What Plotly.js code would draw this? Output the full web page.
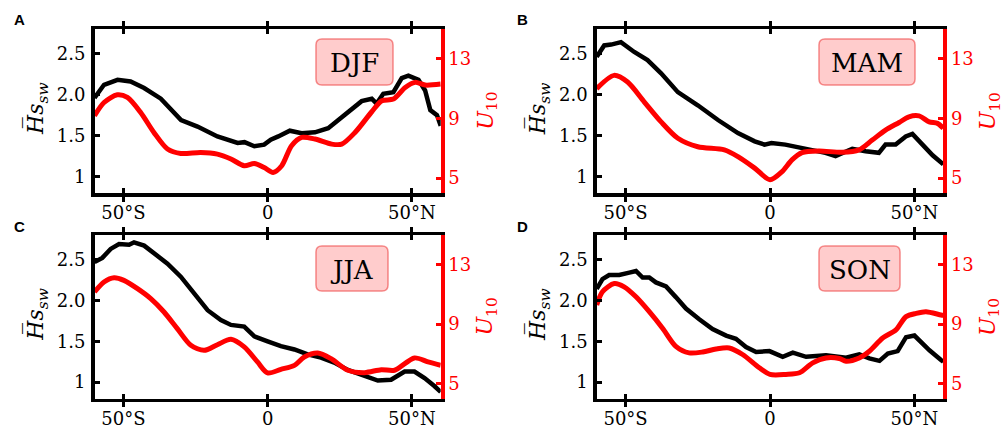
<!DOCTYPE html>
<html>
<head>
<meta charset="utf-8">
<script src="https://cdn.plot.ly/plotly-3.0.1.min.js"></script>
<style>html,body{margin:0;padding:0;background:#fff;} #chart{width:1003px;height:430px;}</style>
</head>
<body>
<div id="chart"></div>
<script>
// ---------- data ----------
const seasons = ['DJF', 'MAM', 'JJA', 'SON'];
const panelLetters = ['A', 'B', 'C', 'D'];
const xTickVals = [-50, 0, 50];
const xTickText = ['50°S', '0', '50°N'];
const hsTickVals = [1, 1.5, 2, 2.5];
const hsTickText = ['1', '1.5', '2.0', '2.5'];
const uTickVals = [5, 9, 13];
const uTickText = ['5', '9', '13'];

// DJF
const latA_hs = [-60,-56.7,-52,-47.5,-42.8,-37,-30,-24.3,-17.4,-10.4,-8,-4.6,-1.2,1.1,3.7,7.7,11.8,16.4,21,24.5,29.2,32.6,36.1,37.8,40.1,43.6,46.5,48.8,52.3,54.6,56.4,58.7,60];
const hsA = [1.96,2.12,2.18,2.16,2.08,1.95,1.69,1.61,1.49,1.41,1.42,1.37,1.39,1.45,1.49,1.56,1.53,1.54,1.59,1.69,1.83,1.92,1.95,1.89,2.01,2.03,2.20,2.23,2.18,2.05,1.81,1.75,1.62];
const latA_u = [-60,-56.7,-52.1,-48.6,-44,-39.4,-34.7,-30.1,-23.2,-17.4,-12.7,-8.1,-4.6,-1.2,1.9,4.9,8.3,11.8,16.4,22.2,25.7,30.3,36.1,39.6,43.6,47.7,51.1,54.6,60];
const uA = [9.18,10.07,10.59,10.41,9.40,8.06,6.95,6.65,6.72,6.61,6.28,5.83,5.98,5.71,5.38,5.83,7.17,7.73,7.62,7.28,7.28,8.06,9.45,10.19,10.30,11.08,11.42,11.24,11.31];

// MAM
const latB_hs = [-60,-57.4,-55,-51.6,-47,-42.4,-37.7,-31.9,-25,-18,-11.1,-5.3,-1.9,0.5,5.3,12.3,19.2,22.7,28.5,33.1,37.7,40,43.5,47,49.3,52.8,56.3,60];
const hsB = [2.46,2.60,2.61,2.64,2.52,2.42,2.26,2.03,1.87,1.69,1.53,1.43,1.39,1.41,1.39,1.34,1.29,1.25,1.34,1.31,1.29,1.39,1.39,1.49,1.52,1.39,1.26,1.15];
const latB_u = [-60,-54,-49.3,-43.5,-37.7,-31.9,-25,-15.8,-11.1,-5.3,0,4.2,7.6,11.1,16.9,25,30.8,35.4,40,44.7,48.1,51.6,55.1,58,60];
const uB = [11.0,11.89,11.44,10.1,8.77,7.67,7.1,6.89,6.44,5.67,4.89,5.44,6.22,6.71,6.82,6.73,6.89,7.55,8.22,8.73,9.11,9.17,8.77,8.67,8.35];

// JJA
const latC_hs = [-60,-57.3,-54.4,-51.5,-48,-46.3,-42.8,-39.4,-34.7,-30.1,-25.5,-20.8,-16.2,-12.7,-8.1,-4.6,0,4.6,9.3,13.9,18.5,23.1,27.8,32.4,38.2,42.8,47.5,50.9,54.4,57.9,60];
const hsC = [2.47,2.52,2.63,2.69,2.68,2.71,2.67,2.58,2.45,2.29,2.09,1.88,1.76,1.70,1.68,1.56,1.50,1.44,1.40,1.34,1.30,1.24,1.15,1.09,1.02,1.03,1.13,1.13,1.05,0.95,0.88];
const latC_u = [-60,-56.7,-53.2,-49.8,-45.1,-40.5,-35.9,-31.3,-26.6,-22,-17.4,-12.7,-8.1,-3.5,0,4.6,9.3,12.7,17.4,22,27.8,33.6,39.4,44,50.9,55.6,60];
const uC = [11.17,11.84,12.13,11.95,11.39,10.72,9.82,8.70,7.58,7.24,7.62,7.98,7.47,6.46,5.72,5.96,6.23,6.79,7.06,6.68,5.90,5.74,5.94,5.90,6.73,6.46,6.23];

// SON
const latD_hs = [-60,-58,-55.7,-52.2,-48.7,-46.4,-44.1,-41.8,-39.5,-36,-32.6,-29.1,-24.5,-19.9,-15.2,-11.8,-8.3,-4.8,-0.2,4.4,7.9,12.5,19.4,26.3,30.9,34.4,37.9,40.8,44.2,47.1,50,52.3,55.2,59.2,60];
const hsD = [2.14,2.26,2.31,2.31,2.34,2.36,2.28,2.28,2.22,2.17,2.04,1.90,1.77,1.65,1.57,1.53,1.43,1.37,1.38,1.31,1.36,1.31,1.33,1.30,1.34,1.29,1.26,1.35,1.38,1.55,1.57,1.49,1.39,1.27,1.25];
const latD_u = [-60,-58,-53.9,-50.5,-46.4,-41.8,-37.2,-32.6,-28,-23.3,-18.7,-14.1,-9.5,-3.7,0,5.5,10.2,14.8,19.4,24,26.3,30.9,34.4,39,43.6,47.1,50.6,54,59.2,60];
const uD = [10.29,11.18,11.73,11.51,10.84,9.84,8.73,7.51,7.07,7.13,7.33,7.40,6.96,6.07,5.62,5.62,5.73,6.40,6.73,6.69,6.51,6.73,7.18,8.07,8.62,9.51,9.73,9.84,9.62,9.60];

const hsLat = [latA_hs, latB_hs, latC_hs, latD_hs];
const hsVals = [hsA, hsB, hsC, hsD];
const uLat = [latA_u, latB_u, latC_u, latD_u];
const uVals = [uA, uB, uC, uD];

// ---------- layout helpers ----------
const W = 1003, H = 430;
const px = v => v / W;
const py = v => 1 - v / H;
const colX = [[94.5, 440.7], [596.7, 943.3]];
const rowY = [[29, 193], [235, 398.5]];
const serif = 'DejaVu Serif';
const sans = 'Liberation Sans';
// season label boxes (pixel rects: x0, x1, y0, y1)
const boxes = [[316, 393, 39, 85], [819, 915, 39, 85], [316, 388, 246, 291], [819, 900, 246, 291]];

function roundRect(b, r) {
  const [x0, x1, y0, y1] = b;
  const P = (x, y) => px(x).toFixed(5) + ',' + py(y).toFixed(5);
  return 'M' + P(x0 + r, y0) + ' L' + P(x1 - r, y0) + ' Q' + P(x1, y0) + ' ' + P(x1, y0 + r) +
    ' L' + P(x1, y1 - r) + ' Q' + P(x1, y1) + ' ' + P(x1 - r, y1) +
    ' L' + P(x0 + r, y1) + ' Q' + P(x0, y1) + ' ' + P(x0, y1 - r) +
    ' L' + P(x0, y0 + r) + ' Q' + P(x0, y0) + ' ' + P(x0 + r, y0) + ' Z';
}

const traces = [];
const layout = {
  width: W, height: H,
  margin: {l: 0, r: 0, t: 0, b: 0},
  paper_bgcolor: '#fff', plot_bgcolor: 'rgba(0,0,0,0)',
  showlegend: false,
  font: {family: serif},
  annotations: [], shapes: []
};

for (let i = 0; i < 4; i++) {
  const c = i % 2, r = Math.floor(i / 2);
  const xs = i === 0 ? '' : String(i + 1);
  const yl = 2 * i + 1, yr = 2 * i + 2;
  const ylS = yl === 1 ? '' : String(yl);
  const xd = [px(colX[c][0]), px(colX[c][1])];
  const yd = [py(rowY[r][1]), py(rowY[r][0])];

  traces.push({
    x: hsLat[i], y: hsVals[i], type: 'scatter', mode: 'lines',
    xaxis: 'x' + xs, yaxis: 'y' + ylS,
    line: {color: '#000', width: 4.5}, hoverinfo: 'skip'
  });
  traces.push({
    x: uLat[i], y: uVals[i], type: 'scatter', mode: 'lines',
    xaxis: 'x' + xs, yaxis: 'y' + yr,
    line: {color: '#ff0000', width: 5, shape: 'spline', smoothing: 0.8}, hoverinfo: 'skip'
  });

  layout['xaxis' + xs] = {
    domain: xd, range: [-60, 60], anchor: 'y' + ylS,
    tickmode: 'array', tickvals: xTickVals, ticktext: xTickText,
    ticks: 'inside', ticklen: 5, tickwidth: 3, tickcolor: '#000',
    showline: true, linewidth: 3.5, linecolor: '#000', mirror: 'allticks',
    showgrid: false, zeroline: false, ticklabelstandoff: 1,
    tickfont: {family: serif, size: 18, color: '#000'}
  };
  layout['yaxis' + ylS] = {
    domain: yd, range: [0.8, 2.8], anchor: 'x' + xs,
    tickmode: 'array', tickvals: hsTickVals, ticktext: hsTickText,
    ticks: 'inside', ticklen: 5, tickwidth: 3, tickcolor: '#000',
    showline: true, linewidth: 3.5, linecolor: '#000', mirror: false,
    showgrid: false, zeroline: false, ticklabelstandoff: 2,
    tickfont: {family: serif, size: 18, color: '#000'}
  };
  layout['yaxis' + yr] = {
    overlaying: 'y' + ylS, side: 'right', range: [4, 15], anchor: 'x' + xs,
    tickmode: 'array', tickvals: uTickVals, ticktext: uTickText,
    ticks: 'inside', ticklen: 5, tickwidth: 3, tickcolor: '#ff0000',
    showline: true, linewidth: 4, linecolor: '#ff0000',
    showgrid: false, zeroline: false,
    tickfont: {family: serif, size: 18, color: '#ff0000'}
  };

  // panel letter
  layout.annotations.push({
    xref: 'paper', yref: 'paper', x: px([19, 522.5][c]), y: py([19, 226.7][r]),
    xanchor: 'center', yanchor: 'middle', showarrow: false,
    text: '<b>' + panelLetters[i] + '</b>',
    font: {family: sans, size: 15, color: '#000'}
  });
  // y titles
  const ymid = (rowY[r][0] + rowY[r][1]) / 2;
  layout.annotations.push({
    xref: 'paper', yref: 'paper', x: px(colX[c][0] - 57.5), y: py(ymid - 2),
    xanchor: 'center', yanchor: 'middle', showarrow: false, textangle: -90,
    text: '<i>H\u0305s</i><sub><i>sw</i></sub>',
    font: {family: serif, size: 22, color: '#000'}
  });
  layout.annotations.push({
    xref: 'paper', yref: 'paper', x: px(colX[c][1] + 46), y: py(ymid),
    xanchor: 'center', yanchor: 'middle', showarrow: false, textangle: -90,
    text: '<i>U</i><sub>10</sub>',
    font: {family: serif, size: 22, color: '#ff0000'}
  });
  // season box + text
  const b = boxes[i];
  layout.shapes.push({
    type: 'path', xref: 'paper', yref: 'paper', path: roundRect(b, 6),
    fillcolor: 'rgba(255,0,0,0.2)', line: {color: 'rgba(240,80,80,0.65)', width: 1.5}, layer: 'above'
  });
  layout.annotations.push({
    xref: 'paper', yref: 'paper', x: px((b[0] + b[1]) / 2), y: py((b[2] + b[3]) / 2 + 1),
    xanchor: 'center', yanchor: 'middle', showarrow: false,
    text: seasons[i], font: {family: serif, size: 26, color: '#000'}
  });
}

Plotly.newPlot('chart', traces, layout, {staticPlot: true, displayModeBar: false});
</script>
</body>
</html>
